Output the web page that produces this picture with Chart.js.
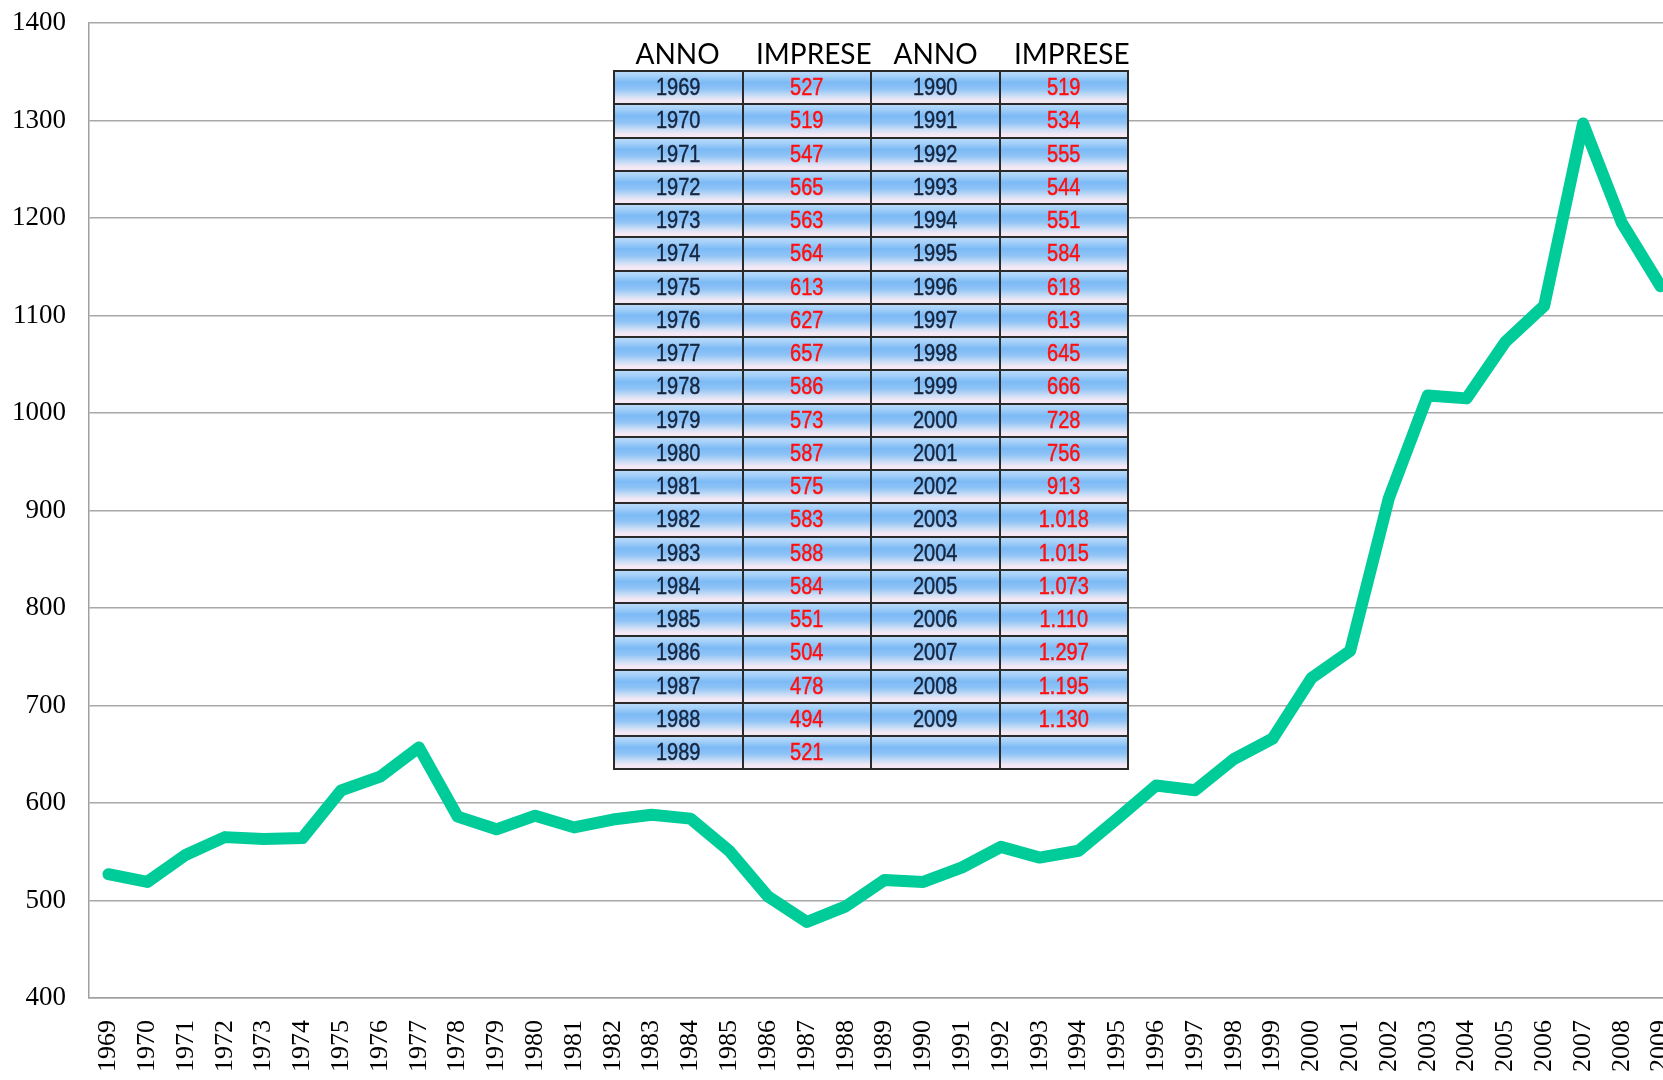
<!DOCTYPE html>
<html>
<head>
<meta charset="utf-8">
<script src="https://cdn.jsdelivr.net/npm/chart.js@4"></script>
<style>
    html, body { margin: 0; padding: 0; background: #fff; overflow: hidden; }
    #wrap { position: relative; width: 1663px; height: 1080px; overflow: hidden; }
    #chart { position: absolute; left: 0; top: 0; }
    #table-box { position: absolute; left: 613px; top: 36px; }
    .head { display: flex; width: 516px; height: 34px; }
    .head div {
        width: 129px; text-align: center; box-sizing: border-box;
        font-family: Lato, sans-serif; font-size: 28px; color: #000;
        line-height: 34px;
    }
    .head div.imp { padding-left: 14px; }
    table { border-collapse: collapse; table-layout: fixed; }
    td {
        width: 126.5px; height: 31.25px; padding: 0;
        border: 2px solid #2a2a2a;
        text-align: center;
        background: linear-gradient(to bottom, #b9dafa 0%, #a3cff8 14%, #7cbaf6 34%, #8fc3f6 55%, #cfdff5 78%, #f5e8f5 92%, #f6e9f6 100%);
        font-family: "Liberation Sans", Arial, sans-serif; font-size: 20px;
        -webkit-text-stroke: 0.4px;
    }
    td span { display: inline-block; transform: scaleY(1.18); }
    td.anno { color: #17263f; }
    td.imp { color: #ff1010; }
</style>
</head>
<body>
<div id="wrap">
    <canvas id="chart" width="1693" height="1080"></canvas>
    <div id="table-box">
        <div class="head"><div>ANNO</div><div class="imp">IMPRESE</div><div>ANNO</div><div class="imp">IMPRESE</div></div>
        <table id="tab"></table>
    </div>
</div>
<script>
// Anni e numero di imprese
const years = [1969, 1970, 1971, 1972, 1973, 1974, 1975, 1976, 1977, 1978,
    1979, 1980, 1981, 1982, 1983, 1984, 1985, 1986, 1987, 1988,
    1989, 1990, 1991, 1992, 1993, 1994, 1995, 1996, 1997, 1998,
    1999, 2000, 2001, 2002, 2003, 2004, 2005, 2006, 2007, 2008, 2009];
const imprese = [527, 519, 547, 565, 563, 564, 613, 627, 657, 586,
    573, 587, 575, 583, 588, 584, 551, 504, 478, 494,
    521, 519, 534, 555, 544, 551, 584, 618, 613, 645,
    666, 728, 756, 913, 1018, 1015, 1073, 1110, 1297, 1195, 1130];
const yTicks = [400, 500, 600, 700, 800, 900, 1000, 1100, 1200, 1300, 1400];

function fmt(n) {
    if (n < 1000) return String(n);
    return Math.floor(n / 1000) + '.' + String(n % 1000).padStart(3, '0');
}

// Build the overlay table: 1969-1989 on the left, 1990-2009 on the right
const tab = document.getElementById('tab');
const half = 21;
for (let r = 0; r < half; r++) {
    const tr = document.createElement('tr');
    const cells = [
        ['anno', years[r]],
        ['imp', imprese[r]],
        ['anno', years[r + half]],
        ['imp', imprese[r + half]],
    ];
    cells.forEach(([cls, v]) => {
        const td = document.createElement('td');
        td.className = cls;
        if (v !== undefined) {
            const sp = document.createElement('span');
            sp.textContent = cls === 'imp' ? fmt(v) : v;
            td.appendChild(sp);
        }
        tr.appendChild(td);
    });
    tab.appendChild(tr);
}

const ctx = document.getElementById('chart').getContext('2d');
new Chart(ctx, {
    type: 'line',
    data: {
        labels: years.map(String),
        datasets: [{
            data: imprese,
            borderColor: '#00cc99',
            borderWidth: 12,
            borderCapStyle: 'round',
            borderJoinStyle: 'round',
            pointRadius: 0,
            tension: 0,
            fill: false,
        }]
    },
    options: {
        responsive: false,
        animation: false,
        layout: { autoPadding: false, padding: { top: 23, right: 13, left: 0, bottom: 0 } },
        plugins: {
            legend: { display: false },
            tooltip: { enabled: false },
        },
        scales: {
            x: {
                offset: true,
                grid: { display: false, drawTicks: false },
                border: { display: true, color: '#a0a0a0', width: 1.5 },
                ticks: {
                    color: '#000',
                    font: { family: '"Liberation Serif", "Times New Roman", serif', size: 26 },
                    minRotation: 90,
                    maxRotation: 90,
                    padding: 22,
                    autoSkip: false,
                },
                afterFit: scale => {
                    scale.height = 82;
                    scale.paddingLeft = 0;
                    scale.paddingRight = 0;
                },
            },
            y: {
                min: 400,
                max: 1400,
                afterBuildTicks: scale => { scale.ticks = yTicks.map(v => ({ value: v })); },
                grid: { color: '#a8a8a8', lineWidth: 1.5, drawTicks: false },
                border: { display: true, color: '#a0a0a0', width: 1.5 },
                ticks: {
                    color: '#000',
                    font: { family: '"Liberation Serif", "Times New Roman", serif', size: 27 },
                    padding: 23,
                    callback: v => String(v),
                },
                afterFit: scale => {
                    scale.width = 89;
                    scale.paddingTop = 0;
                    scale.paddingBottom = 0;
                },
            }
        }
    }
});
</script>
</body>
</html>
